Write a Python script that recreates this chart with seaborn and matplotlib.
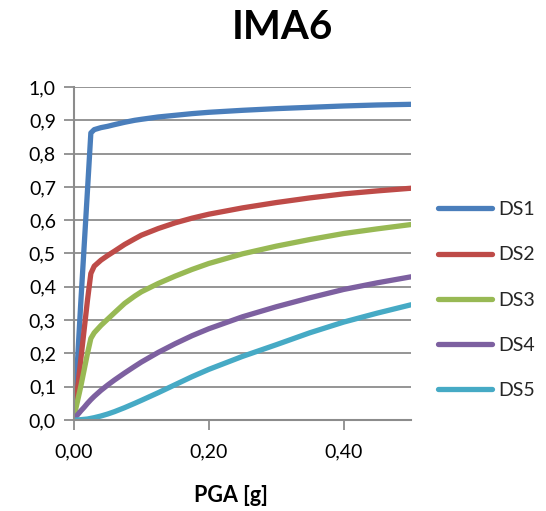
import matplotlib
matplotlib.use("Agg")
import matplotlib.pyplot as plt
import seaborn as sns
import pandas as pd
from matplotlib.ticker import FuncFormatter, MultipleLocator

# Fragility curves: probability of reaching each damage state vs PGA
pga = [0.0, 0.005, 0.01, 0.015, 0.02, 0.025, 0.03, 0.04, 0.05, 0.06, 0.075, 0.09,
       0.1, 0.125, 0.15, 0.175, 0.2, 0.25, 0.3, 0.35, 0.4, 0.45, 0.5]
ds1 = [0.0, 0.17, 0.35, 0.52, 0.69, 0.862, 0.872, 0.878, 0.882, 0.887, 0.894, 0.9,
       0.903, 0.91, 0.915, 0.92, 0.924, 0.93, 0.935, 0.939, 0.943, 0.946, 0.948]
ds2 = [0.01, 0.09, 0.18, 0.27, 0.36, 0.44, 0.462, 0.48, 0.494, 0.507, 0.527, 0.544,
       0.555, 0.575, 0.592, 0.606, 0.618, 0.637, 0.653, 0.667, 0.679, 0.688, 0.696]
ds3 = [0.01, 0.055, 0.1, 0.15, 0.2, 0.245, 0.262, 0.284, 0.303, 0.322, 0.35, 0.372,
       0.385, 0.41, 0.432, 0.452, 0.47, 0.499, 0.522, 0.542, 0.56, 0.574, 0.587]
ds4 = [0.005, 0.015, 0.027, 0.038, 0.05, 0.061, 0.071, 0.089, 0.105, 0.12, 0.141, 0.161,
       0.174, 0.203, 0.229, 0.253, 0.274, 0.31, 0.34, 0.367, 0.392, 0.412, 0.43]
ds5 = [0.0, 0.0, 0.001, 0.002, 0.003, 0.005, 0.007, 0.012, 0.018, 0.025, 0.037, 0.05,
       0.059, 0.082, 0.106, 0.13, 0.152, 0.191, 0.226, 0.262, 0.294, 0.321, 0.346]

states = ["DS1", "DS2", "DS3", "DS4", "DS5"]
colors = ["#4A7EBB", "#BE4B48", "#98B954", "#7D60A0", "#46AAC5"]
series = [ds1, ds2, ds3, ds4, ds5]

df = pd.concat(
    [pd.DataFrame({"PGA": pga, "P": vals, "DS": name}) for name, vals in zip(states, series)],
    ignore_index=True,
)

sns.set_theme(style="white")
plt.rcParams["font.family"] = ["Lato", "DejaVu Sans"]

fig = plt.figure(figsize=(5.46, 5.11), dpi=100)
ax = fig.add_axes([74 / 546, 1 - 420 / 511, (411 - 74) / 546, (420 - 87) / 511])

sns.lineplot(data=df, x="PGA", y="P", hue="DS", palette=dict(zip(states, colors)),
             linewidth=3.8, ax=ax, legend=True,
             solid_capstyle="round", solid_joinstyle="round")

grid_c = "#8C8C8C"
ax.set_xlim(0, 0.5)
ax.set_ylim(0, 1.0)
ax.yaxis.set_major_locator(MultipleLocator(0.1))
ax.xaxis.set_major_locator(MultipleLocator(0.2))
ax.yaxis.set_major_formatter(FuncFormatter(lambda v, _: f"{v:.1f}".replace(".", ",")))
ax.xaxis.set_major_formatter(FuncFormatter(lambda v, _: f"{v:.2f}".replace(".", ",")))
ax.grid(axis="y", color=grid_c, linewidth=1.3)
ax.grid(axis="x", visible=False)
ax.set_axisbelow(True)
for s in ["top", "right"]:
    ax.spines[s].set_visible(False)
for s in ["left", "bottom"]:
    ax.spines[s].set_color(grid_c)
    ax.spines[s].set_linewidth(1.5)
ax.tick_params(axis="both", which="major", length=7, width=1.3, color=grid_c,
               labelsize=14, labelcolor="black", direction="out", pad=6,
               left=True, bottom=True)
ax.tick_params(axis="x", pad=10)

ax.set_ylabel("")
ax.set_xlabel("PGA [g]", fontsize=15.5, fontweight="bold", color="black")
ax.xaxis.set_label_coords((231 - 74) / (411 - 74), -0.195)

handles, labels = ax.get_legend_handles_labels()
ax.legend(handles, labels, loc="center left", bbox_to_anchor=(420 / 546, 1 - 300 / 511),
          bbox_transform=fig.transFigure, frameon=False, fontsize=14,
          handlelength=2.8, handletextpad=0.3, labelspacing=1.45)

fig.text(282 / 546, 1 - 27 / 511, "IMA6", ha="center", va="center",
         fontsize=29, fontweight="bold", color="black")

fig.savefig("out.png", dpi=100, facecolor="white")
